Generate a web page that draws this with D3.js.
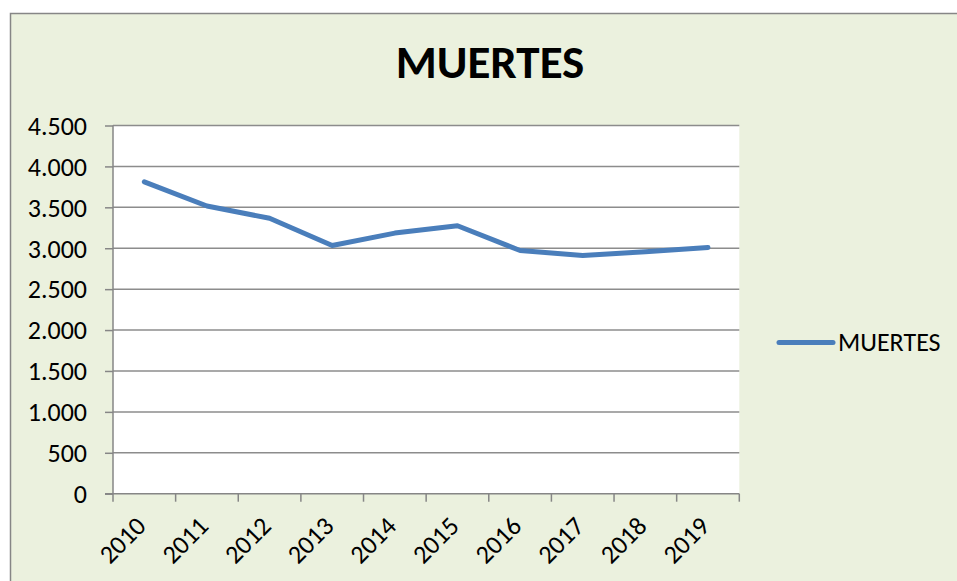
<!DOCTYPE html>
<html>
<head>
<meta charset="utf-8">
<script src="https://cdn.jsdelivr.net/npm/d3@7"></script>
<style>
  body { margin: 0; background: #fff; }
  svg text { font-family: Carlito, Calibri, Lato, sans-serif; fill: #000; }
</style>
</head>
<body>
<script>
// data
var years = ["2010", "2011", "2012", "2013", "2014", "2015", "2016", "2017", "2018", "2019"];
var muertes = [3812, 3516, 3366, 3033, 3185, 3275, 2972, 2912, 2958, 3010];
var yTicks = [0, 500, 1000, 1500, 2000, 2500, 3000, 3500, 4000, 4500];
var seriesName = "MUERTES";
var chartTitle = "MUERTES";

var width = 957, height = 581;

var svg = d3.select("body").append("svg")
  .attr("width", width)
  .attr("height", height);

// chart area background + border
svg.append("rect")
  .attr("x", 10.5).attr("y", 13.5)
  .attr("width", width + 10).attr("height", height + 10)
  .attr("fill", "#EBF1DE")
  .attr("stroke", "#868686")
  .attr("stroke-width", 1.5);

// plot area
var plot = { left: 113, top: 125.5, right: 739.3, bottom: 493.7 };

var x = d3.scaleBand()
  .domain(years)
  .range([plot.left, plot.right]);

var y = d3.scaleLinear()
  .domain([0, 4500])
  .range([plot.bottom, plot.top]);

svg.append("rect")
  .attr("x", plot.left).attr("y", plot.top)
  .attr("width", plot.right - plot.left)
  .attr("height", plot.bottom - plot.top)
  .attr("fill", "#fff");

// gridlines
svg.append("g")
  .selectAll("line")
  .data(yTicks.slice(1))
  .join("line")
  .attr("x1", plot.left).attr("x2", plot.right)
  .attr("y1", function(d) { return y(d); })
  .attr("y2", function(d) { return y(d); })
  .attr("stroke", "#8C8C8C")
  .attr("stroke-width", 1.5);

// y axis
var fmt = function(d) { return d3.format(",")(d).replace(/,/g, "."); };
var yAxis = svg.append("g")
  .attr("transform", "translate(" + plot.left + ",0)")
  .call(d3.axisLeft(y).tickValues(yTicks).tickSize(8).tickPadding(18).tickFormat(fmt));
yAxis.selectAll("path, line").attr("stroke", "#868686").attr("stroke-width", 1.5);
yAxis.select(".domain").attr("d", "M0," + plot.top + "V" + plot.bottom);
yAxis.selectAll("text")
  .style("font-size", "26px")
  .attr("dy", "0.34em")
  .attr("font-family", null);

// x axis, ticks on band edges
var xAxis = svg.append("g")
  .attr("transform", "translate(0," + plot.bottom + ")");
xAxis.append("line")
  .attr("x1", plot.left - 8).attr("x2", plot.right)
  .attr("stroke", "#868686").attr("stroke-width", 1.5);
xAxis.selectAll("line.tick")
  .data(years.concat(["end"]))
  .join("line")
  .attr("class", "tick")
  .attr("x1", function(d, i) { return plot.left + i * x.bandwidth(); })
  .attr("x2", function(d, i) { return plot.left + i * x.bandwidth(); })
  .attr("y1", 0).attr("y2", 8)
  .attr("stroke", "#868686").attr("stroke-width", 1.5);
xAxis.selectAll("text")
  .data(years)
  .join("text")
  .attr("text-anchor", "end")
  .attr("transform", function(d) {
    return "translate(" + (x(d) + x.bandwidth() / 2 + 3) + ",34) rotate(-45)";
  })
  .style("font-size", "26px")
  .text(function(d) { return d; });

// line
var line = d3.line()
  .x(function(d, i) { return x(years[i]) + x.bandwidth() / 2; })
  .y(function(d) { return y(d); });

svg.append("path")
  .datum(muertes)
  .attr("d", line)
  .attr("fill", "none")
  .attr("stroke", "#4A7EBB")
  .attr("stroke-width", 5)
  .attr("stroke-linecap", "round")
  .attr("stroke-linejoin", "round");

// title
svg.append("text")
  .attr("x", 490).attr("y", 77.7)
  .attr("text-anchor", "middle")
  .style("font-size", "47px")
  .style("font-weight", "bold")
  .text(chartTitle);

// legend
var legend = svg.append("g").attr("transform", "translate(779,342.5)");
legend.append("line")
  .attr("x1", 0).attr("x2", 54)
  .attr("stroke", "#4A7EBB")
  .attr("stroke-width", 5)
  .attr("stroke-linecap", "round");
legend.append("text")
  .attr("x", 59).attr("y", 8)
  .style("font-size", "26px")
  .text(seriesName);
</script>
</body>
</html>
